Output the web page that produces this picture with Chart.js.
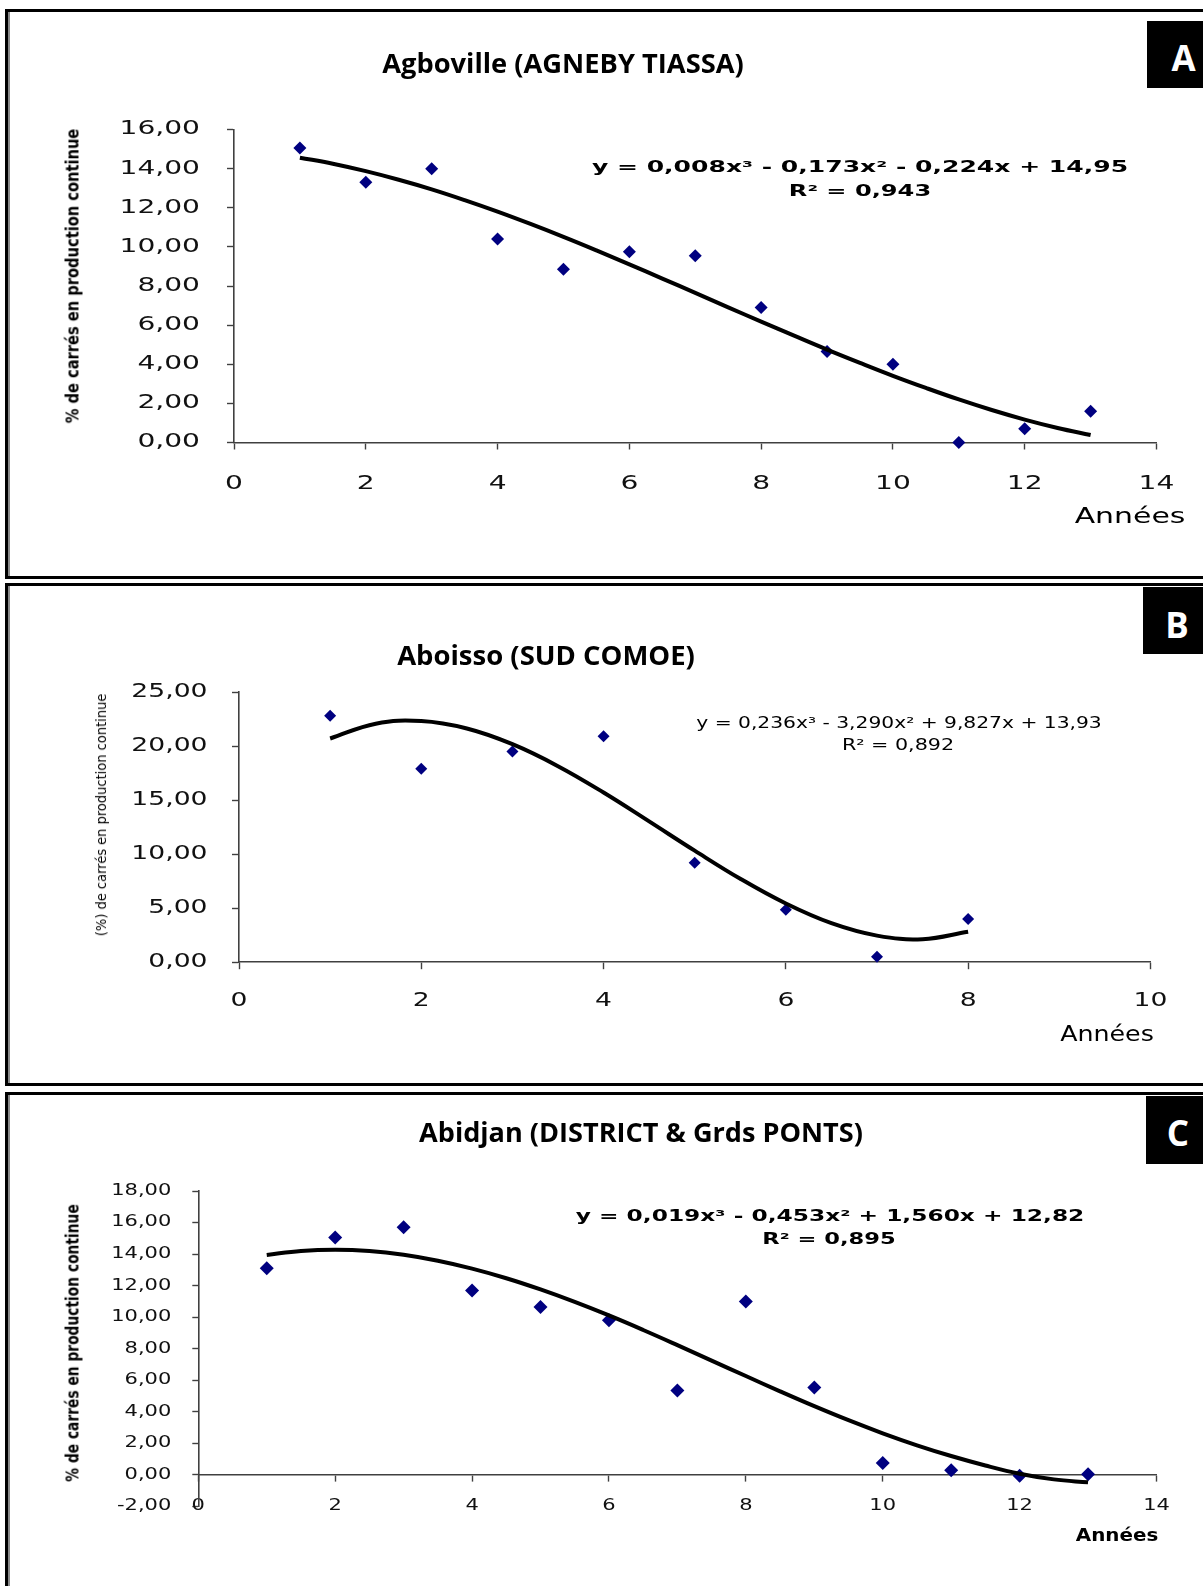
<!DOCTYPE html>
<html><head><meta charset="utf-8">
<script src="https://cdn.jsdelivr.net/npm/chart.js@4.4.1/dist/chart.umd.min.js"></script>
<style>
html,body{margin:0;padding:0;background:#fff;}
#page{position:relative;width:1203px;height:1586px;overflow:hidden;background:#fff;}
.panel{position:absolute;left:5px;width:1198px;box-sizing:border-box;border-top:3px solid #000;border-left:3px solid #000;}
.inner{position:absolute;left:8px;width:2px;background:#8a8a8a;}
canvas{position:absolute;left:0;}
.t{position:absolute;white-space:nowrap;line-height:1;color:#000;left:0;top:0;}
.lab{position:absolute;background:#000;}
.ttl{font-family:"Open Sans","Noto Sans",sans-serif;font-weight:700;font-size:26px;}
.eqb{font-family:"DejaVu Sans",sans-serif;font-weight:700;font-size:15px;}
.eqn{font-family:"DejaVu Sans Condensed","DejaVu Sans",sans-serif;font-weight:400;font-size:16px;}
.ann{font-family:"DejaVu Sans",sans-serif;font-size:21px;}
.yt{font-family:"DejaVu Sans Condensed","DejaVu Sans",sans-serif;font-weight:700;font-size:17px;}
.ytn{font-family:"DejaVu Sans Condensed","DejaVu Sans",sans-serif;font-weight:400;font-size:14px;}
.letter{font-family:"Open Sans","Noto Sans",sans-serif;font-weight:700;font-size:35px;color:#fff;}
</style></head><body><div id="page">
<div class="panel" style="top:9px;height:570px;border-bottom:3px solid #000;"></div>
<div class="inner" style="top:12px;height:564px;"></div>
<div class="panel" style="top:583px;height:503px;border-bottom:3px solid #000;"></div>
<div class="inner" style="top:586px;height:497px;"></div>
<div class="panel" style="top:1092px;height:500px;"></div>
<div class="inner" style="top:1095px;height:491px;"></div>

<canvas id="cA"></canvas>
<canvas id="cB"></canvas>
<canvas id="cC"></canvas>

<div class="lab" style="left:1147px;top:21px;width:56px;height:67px;"></div>
<div class="lab" style="left:1143px;top:587px;width:60px;height:67px;"></div>
<div class="lab" style="left:1146px;top:1096px;width:57px;height:68px;"></div>
<div class="t letter" data-cx="1183.5" data-cy="57">A</div>
<div class="t letter" data-cx="1177" data-cy="624">B</div>
<div class="t letter" data-cx="1178" data-cy="1132">C</div>

<div class="t ttl" data-cx="562.5" data-cy="63" data-w="362">Agboville (AGNEBY TIASSA)</div>
<div class="t ttl" data-cx="546" data-cy="654.6" data-w="298">Aboisso (SUD COMOE)</div>
<div class="t ttl" data-cx="641" data-cy="1132" data-w="444">Abidjan (DISTRICT &amp; Grds PONTS)</div>

<div class="t eqb" data-cx="860" data-cy="167" data-w="536">y = 0,008x³ - 0,173x² - 0,224x + 14,95</div>
<div class="t eqb" data-cx="860" data-cy="191" data-w="143">R² = 0,943</div>
<div class="t eqn" data-cx="898.5" data-cy="722.5" data-w="405">y = 0,236x³ - 3,290x² + 9,827x + 13,93</div>
<div class="t eqn" data-cx="898" data-cy="745" data-w="112">R² = 0,892</div>
<div class="t eqb" data-cx="830" data-cy="1216" data-w="508">y = 0,019x³ - 0,453x² + 1,560x + 12,82</div>
<div class="t eqb" data-cx="829" data-cy="1238.5" data-w="134">R² = 0,895</div>

<div class="t ann" data-cx="1130" data-cy="516" data-w="111">Années</div>
<div class="t ann" data-cx="1107" data-cy="1034" data-w="94">Années</div>
<div class="t ann" style="font-weight:700;font-size:17px;" data-cx="1117" data-cy="1535" data-w="83">Années</div>

<div class="t yt" data-cx="73" data-cy="275.5" data-w="295" data-rot="-90">% de carrés en production continue</div>
<div class="t ytn" data-cx="101" data-cy="815" data-w="242" data-rot="-90">(%) de carrés en production continue</div>
<div class="t yt" data-cx="73" data-cy="1343" data-w="278" data-rot="-90">% de carrés en production continue</div>
</div>
<script>
// ---------- DATA ----------
// Panel A : Agboville (AGNEBY TIASSA)
const yearsA = [1,2,3,4,5,6,7,8,9,10,11,12,13];
const pctA = [15.05,13.3,14.0,10.4,8.85,9.75,9.55,6.9,4.65,4.0,0.0,0.7,1.6];
const trendXA = [1,1.5,2,2.5,3,3.5,4,4.5,5,5.5,6,6.5,7,7.5,8,8.5,9,9.5,10,10.5,11,11.5,12,12.5,13];
const trendYA = [14.56,14.25,13.87,13.43,12.94,12.39,11.80,11.17,10.51,9.82,9.11,8.38,7.65,6.91,6.18,5.46,4.75,4.07,3.41,2.79,2.20,1.66,1.17,0.74,0.38];
const yTicksA = ['0,00','2,00','4,00','6,00','8,00','10,00','12,00','14,00','16,00'];
const xTicksA = ['0','2','4','6','8','10','12','14'];

// Panel B : Aboisso (SUD COMOE)
const yearsB = [1,2,3,4,5,6,7,8];
const pctB = [22.8,17.9,19.5,20.9,9.2,4.85,0.5,4.0];
const trendXB = [1,1.5,2,2.5,3,3.5,4,4.5,5,5.5,6,6.5,7,7.5,8];
const trendYB = [20.70,22.07,22.31,21.62,20.17,18.14,15.70,13.03,10.32,7.72,5.43,3.61,2.46,2.13,2.82];
const yTicksB = ['0,00','5,00','10,00','15,00','20,00','25,00'];
const xTicksB = ['0','2','4','6','8','10'];

// Panel C : Abidjan (DISTRICT & Grds PONTS)
const yearsC = [1,2,3,4,5,6,7,8,9,10,11,12,13];
const pctC = [13.1,15.05,15.7,11.7,10.65,9.8,5.35,11.0,5.55,0.75,0.3,-0.05,0.05];
const trendXC = [1,1.5,2,2.5,3,3.5,4,4.5,5,5.5,6,6.5,7,7.5,8,8.5,9,9.5,10,10.5,11,11.5,12,12.5,13];
const trendYC = [13.95,14.2,14.28,14.2,13.96,13.58,13.08,12.47,11.76,10.97,10.11,9.19,8.23,7.25,6.27,5.3,4.36,3.47,2.64,1.88,1.2,0.6,0.08,-0.28,-0.47];
const yTicksC = ['-2,00','0,00','2,00','4,00','6,00','8,00','10,00','12,00','14,00','16,00','18,00'];
const xTicksC = ['0','2','4','6','8','10','12','14'];

// ---------- TEXT PLACEMENT ----------
document.querySelectorAll('.t').forEach(el => {
  const cx = +el.dataset.cx, cy = +el.dataset.cy;
  const rot = el.dataset.rot ? +el.dataset.rot : 0;
  el.style.left = cx + 'px'; el.style.top = cy + 'px';
  let s = 1;
  if (el.dataset.w) s = (+el.dataset.w) / el.offsetWidth;
  el.style.transform = 'translate(-50%,-50%) rotate(' + rot + 'deg) scaleX(' + s + ')';
});

// ---------- CHARTS ----------
// stretches the tick label glyphs horizontally around their anchor point
const stretchPlugin = {
  id: 'stretch',
  beforeDraw(chart, args, opts) {
    const sx = opts.sx || 1;
    const orig = CanvasRenderingContext2D.prototype.fillText;
    chart.ctx.fillText = function (t, x, y) {
      this.save(); this.translate(x, y); this.scale(sx, 1); orig.call(this, t, 0, 0); this.restore();
    };
  },
  afterDraw(chart) { delete chart.ctx.fillText; }
};

function build(id, g, d) {
  const cv = document.getElementById(id);
  cv.width = 1203; cv.height = g.canvasH;
  cv.style.top = g.canvasTop + 'px';
  const axisColor = '#404040';
  const tickFont = { family: 'DejaVu Sans', size: g.fontPx, weight: 'normal' };
  const bottomPad = g.xPos === 'bottom' ? 0 : g.canvasH - (g.bottom - g.canvasTop);
  new Chart(cv, {
    type: 'scatter',
    data: { datasets: [
      { data: d.tx.map((x, i) => ({ x: x, y: d.ty[i] })), showLine: true, borderColor: '#000',
        borderWidth: 4, pointRadius: 0, tension: 0.4, clip: false, fill: false },
      { data: d.x.map((x, i) => ({ x: x, y: d.y[i] })), showLine: false, pointStyle: 'rectRot',
        pointRadius: g.r, backgroundColor: '#000080', borderColor: '#000080', borderWidth: 0, clip: false }
    ]},
    options: {
      responsive: false, animation: false, events: [],
      layout: { padding: { left: 0, top: g.top - g.canvasTop, right: 1203 - g.right, bottom: bottomPad } },
      plugins: { legend: { display: false }, tooltip: { enabled: false }, stretch: { sx: g.sx } },
      scales: {
        x: {
          type: 'linear', axis: 'x', min: g.xMin, max: g.xMax, position: g.xPos,
          afterFit: s => { s.height = g.xPos === 'bottom' ? g.canvasH - (g.bottom - g.canvasTop) : 0; },
          border: { display: true, color: axisColor, width: 1.6 },
          grid: { display: true, drawOnChartArea: false, drawTicks: true, tickLength: g.tl, tickColor: axisColor, tickWidth: 1.4 },
          ticks: { stepSize: g.xStep, padding: g.xPad, font: tickFont, color: '#111', maxRotation: 0, autoSkip: false,
                   callback: (v, i) => d.xl[i] }
        },
        y: {
          type: 'linear', axis: 'y', min: g.yMin, max: g.yMax, position: 'left',
          afterFit: s => { s.width = g.left; },
          border: { display: true, color: axisColor, width: 1.6 },
          grid: { display: true, drawOnChartArea: false, drawTicks: true, tickLength: g.tl, tickColor: axisColor, tickWidth: 1.4 },
          ticks: { stepSize: g.yStep, padding: g.yPad, font: tickFont, color: '#111', autoSkip: false,
                   callback: (v, i) => d.yl[i] }
        }
      }
    },
    plugins: [stretchPlugin]
  });
}

build('cA',
  { canvasTop: 13, canvasH: 563, left: 234, right: 1156.5, top: 129.5, bottom: 442.5,
    xMin: 0, xMax: 14, xStep: 2, yMin: 0, yMax: 16, yStep: 2, fontPx: 19, sx: 1.48,
    tl: 7, xPad: 23, yPad: 27, r: 6.5, xPos: 'bottom' },
  { x: yearsA, y: pctA, tx: trendXA, ty: trendYA, xl: xTicksA, yl: yTicksA });

build('cB',
  { canvasTop: 587, canvasH: 496, left: 239, right: 1150.4, top: 692, bottom: 962.2,
    xMin: 0, xMax: 10, xStep: 2, yMin: 0, yMax: 25, yStep: 5, fontPx: 19, sx: 1.4,
    tl: 7, xPad: 20, yPad: 24.5, r: 6, xPos: 'bottom' },
  { x: yearsB, y: pctB, tx: trendXB, ty: trendYB, xl: xTicksB, yl: yTicksB });

build('cC',
  { canvasTop: 1095, canvasH: 491, left: 198.3, right: 1156.5, top: 1191, bottom: 1506.5,
    xMin: 0, xMax: 14, xStep: 2, yMin: -2, yMax: 18, yStep: 2, fontPx: 15, sx: 1.4,
    tl: 6, xPad: 16.5, yPad: 21, r: 7, xPos: { y: 0 } },
  { x: yearsC, y: pctC, tx: trendXC, ty: trendYC, xl: xTicksC, yl: yTicksC });
</script>
</body></html>
